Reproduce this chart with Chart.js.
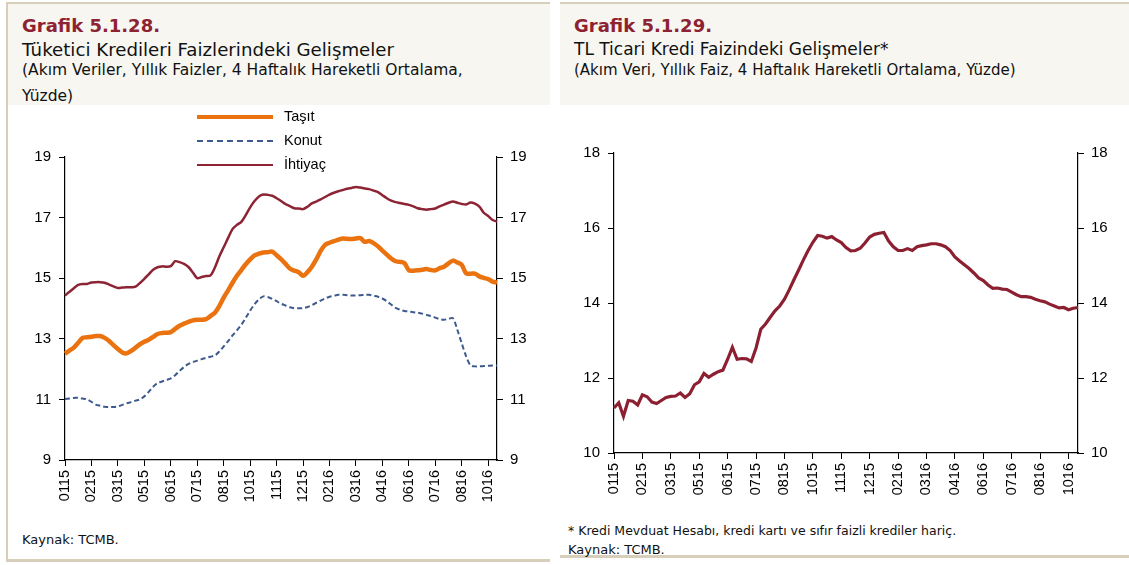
<!DOCTYPE html>
<html>
<head>
<meta charset="utf-8">
<script src="https://cdn.jsdelivr.net/npm/chart.js@4"></script>
<style>
  html, body { margin: 0; padding: 0; background: #fff; }
  body { width: 1129px; height: 565px; position: relative; overflow: hidden; font-family: "DejaVu Sans", sans-serif; }
  .panel { position: absolute; top: 2px; height: 555px; background: #fff; }
  #p1 { left: 6px; width: 542px; border-left: 2px solid #d8cfba; border-top: 2px solid #d8cfba; border-bottom: 3px solid #d8cfba; }
  #p2 { left: 560px; width: 569px; border-top: 2px solid #d8cfba; border-bottom: 3px solid #d8cfba; height: 551px; }
  .head { position: absolute; left: 0; top: 0; right: 0; height: 101px; background: #f7f6f1; }
  .t1 { position: absolute; left: 14px; top: 11px; font-size: 18px; font-weight: bold; color: #8c2232; white-space: nowrap; }
  .t2 { position: absolute; left: 14px; top: 35px; font-size: 18.2px; color: #111; white-space: nowrap; }
  .t3 { position: absolute; left: 14px; top: 53px; font-size: 15.5px; color: #111; line-height: 26px; white-space: nowrap; }
  .note { position: absolute; font-size: 13px; color: #111; white-space: nowrap; }
  canvas { position: absolute; }
  .legend { position: absolute; left: 197px; top: 108px; font-family: "Liberation Sans", Arial, sans-serif; font-size: 14.5px; color: #000; }
  .legend div { height: 24px; position: relative; }
  .legend .sw { position: absolute; left: 0; top: 9px; width: 76px; }
  .legend span { position: absolute; left: 87px; top: 0; }
</style>
</head>
<body>
<div class="panel" id="p1">
  <div class="head">
    <div class="t1">Grafik 5.1.28.</div>
    <div class="t2">Tüketici Kredileri Faizlerindeki Gelişmeler</div>
    <div class="t3">(Akım Veriler, Yıllık Faizler, 4 Haftalık Hareketli Ortalama,<br>Yüzde)</div>
  </div>
  <div class="note" style="left:14px; top:528px;">Kaynak: TCMB.</div>
</div>
<div class="panel" id="p2">
  <div class="head">
    <div class="t1">Grafik 5.1.29.</div>
    <div class="t2" style="font-size:17px;">TL Ticari Kredi Faizindeki Gelişmeler*</div>
    <div class="t3" style="font-size:15px;">(Akım Veri, Yıllık Faiz, 4 Haftalık Hareketli Ortalama, Yüzde)</div>
  </div>
  <div class="note" style="left:8px; top:519px; font-size:12.5px;">* Kredi Mevduat Hesabı, kredi kartı ve sıfır faizli krediler hariç.</div>
  <div class="note" style="left:8px; top:538px;">Kaynak: TCMB.</div>
</div>
<canvas id="c1" width="530" height="420" style="left:20px; top:110px;"></canvas>
<canvas id="c2" width="540" height="420" style="left:570px; top:110px;"></canvas>
<div class="legend" id="lg"></div>

<script>
// Etiketler (her 6 haftada bir)
const tickLabels = ['0115', '0215', '0315', '0515', '0615', '0715', '0815', '1015', '1115',
    '1215', '0216', '0316', '0416', '0616', '0716', '0816', '1016'];
const tickStep = 6;

// Grafik 5.1.28 - haftalık seriler
const tasit = [
    12.51, 12.61, 12.71, 12.87, 13.03, 13.05, 13.07, 13.09, 13.09, 13.03,
    12.93, 12.79, 12.66, 12.55, 12.52, 12.60, 12.71, 12.82, 12.90, 12.97,
    13.06, 13.16, 13.19, 13.20, 13.22, 13.33, 13.43, 13.50, 13.56, 13.61,
    13.63, 13.63, 13.65, 13.75, 13.86, 14.08, 14.36, 14.60, 14.85, 15.08,
    15.27, 15.46, 15.62, 15.75, 15.81, 15.85, 15.86, 15.88, 15.76, 15.63,
    15.48, 15.32, 15.25, 15.20, 15.08, 15.20, 15.38, 15.62, 15.90, 16.10,
    16.17, 16.22, 16.27, 16.31, 16.30, 16.29, 16.31, 16.32, 16.20, 16.23,
    16.16, 16.05, 15.91, 15.78, 15.65, 15.56, 15.54, 15.50, 15.26, 15.25,
    15.26, 15.28, 15.30, 15.27, 15.26, 15.33, 15.38, 15.49, 15.58, 15.52,
    15.44, 15.16, 15.15, 15.15, 15.06, 15.01, 14.97, 14.89, 14.86
];
const konut = [
    11.01, 11.03, 11.05, 11.05, 11.03, 11.00, 10.92, 10.83, 10.79, 10.76,
    10.75, 10.75, 10.77, 10.82, 10.87, 10.91, 10.96, 11.00, 11.10, 11.25,
    11.42, 11.54, 11.59, 11.64, 11.69, 11.80, 11.94, 12.07, 12.17, 12.23,
    12.28, 12.33, 12.37, 12.41, 12.45, 12.58, 12.75, 12.92, 13.11, 13.28,
    13.46, 13.69, 13.93, 14.14, 14.30, 14.40, 14.38, 14.32, 14.24, 14.16,
    14.10, 14.04, 14.01, 14.01, 14.01, 14.05, 14.11, 14.19, 14.26, 14.33,
    14.39, 14.42, 14.45, 14.45, 14.44, 14.43, 14.43, 14.44, 14.45, 14.45,
    14.42, 14.39, 14.33, 14.24, 14.13, 14.02, 13.96, 13.92, 13.90, 13.88,
    13.86, 13.83, 13.79, 13.75, 13.70, 13.65, 13.63, 13.66, 13.68, 13.30,
    12.85, 12.42, 12.12, 12.09, 12.09, 12.10, 12.11, 12.12, 12.12
];
const ihtiyac = [
    14.43, 14.55, 14.67, 14.78, 14.81, 14.81, 14.86, 14.87, 14.87, 14.85,
    14.79, 14.73, 14.68, 14.69, 14.70, 14.70, 14.72, 14.84, 14.98, 15.13,
    15.28, 15.36, 15.39, 15.38, 15.40, 15.56, 15.53, 15.47, 15.37, 15.19,
    15.00, 15.04, 15.07, 15.09, 15.35, 15.72, 16.02, 16.33, 16.62, 16.76,
    16.86, 17.08, 17.34, 17.55, 17.70, 17.76, 17.75, 17.72, 17.64, 17.55,
    17.45, 17.38, 17.31, 17.30, 17.28, 17.36, 17.47, 17.53, 17.60, 17.68,
    17.76, 17.82, 17.87, 17.91, 17.95, 17.98, 18.01, 17.99, 17.96, 17.94,
    17.89, 17.84, 17.74, 17.64, 17.56, 17.51, 17.48, 17.45, 17.42, 17.37,
    17.31, 17.28, 17.26, 17.28, 17.30, 17.37, 17.43, 17.49, 17.53, 17.49,
    17.45, 17.43, 17.50, 17.46, 17.36, 17.16, 17.05, 16.92, 16.87
];

// Grafik 5.1.29 - TL ticari kredi faizi
const ticari = [
    11.20, 11.34, 10.98, 11.40, 11.38, 11.28, 11.55, 11.50, 11.36, 11.32,
    11.40, 11.48, 11.51, 11.52, 11.60, 11.48, 11.58, 11.82, 11.90, 12.12,
    12.02, 12.10, 12.17, 12.21, 12.50, 12.82, 12.50, 12.52, 12.51, 12.44,
    12.80, 13.30, 13.44, 13.62, 13.79, 13.92, 14.10, 14.35, 14.62, 14.88,
    15.15, 15.40, 15.62, 15.80, 15.78, 15.73, 15.77, 15.68, 15.61, 15.48,
    15.39, 15.40, 15.46, 15.60, 15.76, 15.83, 15.86, 15.88, 15.65, 15.50,
    15.40, 15.40, 15.45, 15.40, 15.50, 15.53, 15.55, 15.58, 15.58, 15.55,
    15.50, 15.40, 15.23, 15.12, 15.02, 14.92, 14.80, 14.67, 14.60, 14.48,
    14.39, 14.40, 14.37, 14.36, 14.29, 14.22, 14.17, 14.17, 14.15, 14.10,
    14.06, 14.03, 13.97, 13.92, 13.87, 13.88, 13.82, 13.86, 13.88
];

const weeks = tasit.map((_, i) => i);
const axisFont = { family: '"Liberation Sans", Arial, sans-serif', size: 15 };

// Ortak eksen ayarları
function yAxis(pos, min, max, w, pad) {
    return {
        position: pos, min: min, max: max,
        ticks: { stepSize: 2, color: '#000', font: axisFont, padding: pad },
        grid: { drawOnChartArea: false, tickLength: 6, color: '#000' },
        border: { color: '#000', width: 1.2 },
        afterFit: s => { s.width = w; }
    };
}
function xAxis(h) {
    return {
        type: 'category',
        ticks: {
            autoSkip: false, minRotation: 90, maxRotation: 90, padding: 4,
            color: '#000', font: { family: '"Liberation Sans", Arial, sans-serif', size: 14.5 },
            callback: (v, i) => i % tickStep === 0 ? tickLabels[i / tickStep] : null
        },
        grid: { drawOnChartArea: false, tickLength: 6, color: '#000' },
        border: { color: '#000', width: 1.2 },
        afterFit: s => { s.height = h; }
    };
}

const series1 = [
    { label: 'Taşıt', data: tasit, borderColor: '#ea730f', borderWidth: 4.5, dash: [] },
    { label: 'Konut', data: konut, borderColor: '#3d5a8e', borderWidth: 2, dash: [5, 3] },
    { label: 'İhtiyaç', data: ihtiyac, borderColor: '#8c2434', borderWidth: 2.5, dash: [] }
];

new Chart(document.getElementById('c1'), {
    type: 'line',
    data: {
        labels: weeks,
        datasets: series1.map(s => ({
            label: s.label, data: s.data, borderColor: s.borderColor, borderWidth: s.borderWidth,
            borderDash: s.dash, pointRadius: 0, tension: 0.3, yAxisID: 'y'
        }))
    },
    options: {
        responsive: false, animation: false,
        layout: { padding: { top: 47, left: 0, right: 0, bottom: 0 } },
        plugins: { legend: { display: false }, tooltip: { enabled: false } },
        scales: {
            x: xAxis(70),
            y: yAxis('left', 9, 19, 45, 8),
            y2: yAxis('right', 9, 19, 53, 7)
        }
    }
});

// Lejant (HTML)
const lg = document.getElementById('lg');
series1.forEach(s => {
    const row = document.createElement('div');
    const sw = document.createElement('div');
    sw.className = 'sw';
    sw.style.borderTop = s.borderWidth + 'px ' + (s.dash.length ? 'dashed ' : 'solid ') + s.borderColor;
    sw.style.marginTop = (-s.borderWidth / 2) + 'px';
    const sp = document.createElement('span');
    sp.textContent = s.label;
    row.appendChild(sw);
    row.appendChild(sp);
    lg.appendChild(row);
});

new Chart(document.getElementById('c2'), {
    type: 'line',
    data: {
        labels: weeks,
        datasets: [{
            label: 'TL Ticari Kredi Faizi', data: ticari, borderColor: '#8c1f30', borderWidth: 3.2,
            pointRadius: 0, tension: 0, yAxisID: 'y'
        }]
    },
    options: {
        responsive: false, animation: false,
        layout: { padding: { top: 43, left: 0, right: 0, bottom: 0 } },
        plugins: { legend: { display: false }, tooltip: { enabled: false } },
        scales: {
            x: xAxis(77),
            y: yAxis('left', 10, 18, 44, 8),
            y2: yAxis('right', 10, 18, 32, 7)
        }
    }
});
</script>
</body>
</html>
